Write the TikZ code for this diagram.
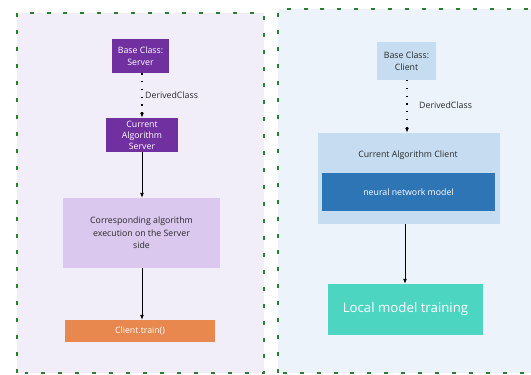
\documentclass[tikz,border=0pt]{standalone}
\usepackage{fontspec}
\setmainfont{Open Sans}
\usetikzlibrary{arrows.meta}
\definecolor{panelL}{HTML}{F2EEF9}
\definecolor{panelR}{HTML}{EDF3FA}
\definecolor{dgreen}{HTML}{2E7D32}
\definecolor{purp}{HTML}{7030A0}
\definecolor{lav}{HTML}{DAC8EE}
\definecolor{orng}{HTML}{E8874E}
\definecolor{lblue}{HTML}{C6DCF0}
\definecolor{dblue}{HTML}{2E75B6}
\definecolor{teal}{HTML}{4CD6C2}
\definecolor{txtd}{HTML}{2A2A2A}
\tikzset{
  panel/.style={draw=dgreen, line width=1.8pt, dash pattern=on 4pt off 13pt},
  box/.style={rectangle, inner sep=1pt, align=center, font=\fontsize{8.8}{12.5}\selectfont},
  solidarrow/.style={draw=black, line width=0.9pt, -{Latex[length=5pt,width=4pt]}},
  dotarrow/.style={draw=black, line width=1.3pt, dash pattern=on 1.3pt off 6.5pt, -{Latex[length=5pt,width=4pt]}},
  lbl/.style={font=\fontsize{8.8}{10}\selectfont, text=txtd, anchor=west, inner sep=0pt}
}
\begin{document}
\begin{tikzpicture}[x=1bp, y=-1bp]
\useasboundingbox (0,0) rectangle (531,374);
\clip (0,0) rectangle (531,374);
\fill[white] (0,0) rectangle (531,374);
% panels
\fill[panelL] (17,13) rectangle (264,373);
\fill[panelR] (278,9) rectangle (545,373);
\draw[panel] (17,373) -- (17,13) -- (264,13) -- (264,373) -- cycle;
\draw[panel] (278,373) -- (278,9) -- (545,9) -- (545,373) -- cycle;
% left side
\node[box, fill=purp, text=white, minimum width=57bp, minimum height=34bp, font=\fontsize{8.8}{11.5}\selectfont] (bs) at (140.5,56) {Base Class:\\Server};
\node[box, fill=purp, text=white, minimum width=72bp, minimum height=34bp, font=\fontsize{8.8}{11}\selectfont] (cas) at (142,135) {Current\\Algorithm\\Server};
\node[box, fill=lav, text=txtd, minimum width=157bp, minimum height=70bp] (corr) at (141.5,233) {Corresponding algorithm\\execution on the Server\\side};
\node[box, fill=orng, text=white, minimum width=150bp, minimum height=22bp] (ct) at (140,331) {Client.train()};
\draw[dotarrow] (bs.south -| cas.north) -- (cas.north);
\node[lbl] (dl) at (145,95) {DerivedClass};
\draw[solidarrow] (cas.south) -- (cas.south |- corr.north);
\draw[solidarrow] (corr.south -| cas.south) -- (cas.south |- ct.north);
% right side
\node[box, fill=lblue, text=txtd, minimum width=59bp, minimum height=38bp] (bc) at (406.5,61) {Base Class:\\Client};
\node[box, fill=lblue, minimum width=182bp, minimum height=91bp] (cac) at (409,178.5) {};
\node[box, text=txtd] (cact) at (408,155) {Current Algorithm Client};
\node[box, fill=dblue, text=white, minimum width=173bp, minimum height=38bp] (nnm) at (408.5,192) {neural network model};
\node[box, fill=teal, text=white, font=\fontsize{13.3}{15}\selectfont, minimum width=155bp, minimum height=51bp] (lmt) at (405.5,309.5) {Local model training};
\coordinate (dtop) at (407,80);
\draw[dotarrow] (dtop) -- (dtop |- cac.north);
\node[lbl] (dr) at (419,105) {DerivedClass};
\coordinate (stop) at (405,224);
\draw[solidarrow] (stop) -- (stop |- lmt.north);
\end{tikzpicture}
\end{document}
